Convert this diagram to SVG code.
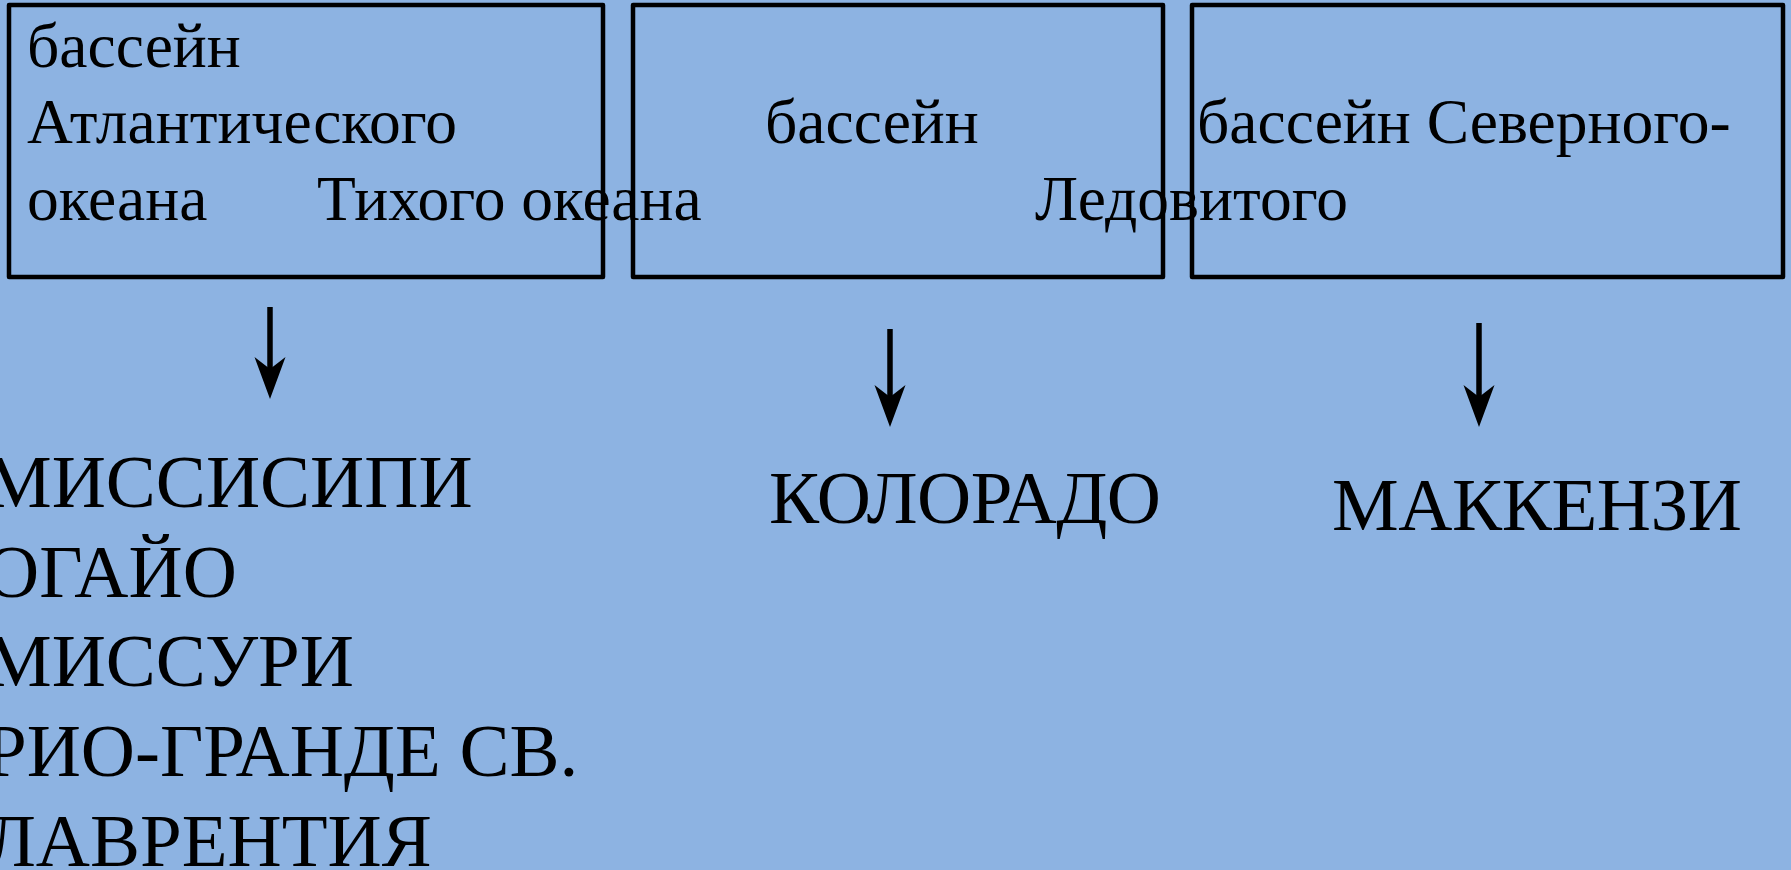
<svg xmlns="http://www.w3.org/2000/svg" width="1791" height="870" viewBox="0 0 1791 870">
<defs>
<style>
.box{fill:none;stroke:#000;stroke-width:4.5;stroke-linejoin:round}
.t{font-family:"Liberation Serif","Times New Roman",serif;font-size:63.5px;fill:#000}
.r{font-family:"Liberation Serif","Times New Roman",serif;font-size:75px;fill:#000}
.c{stroke:#000;stroke-width:5.5;fill:none}
</style>
<marker id="ah" markerUnits="userSpaceOnUse" markerWidth="34" markerHeight="46" viewBox="-17 -14 34 46" refX="0" refY="0" orient="0" overflow="visible">
<path d="M0,30 L-15.5,-12 L0,0 L15.5,-12 Z" fill="#000"/>
</marker>
</defs>
<rect width="1791" height="870" fill="#8DB3E2"/>
<g id="node-atlantic">
<rect class="box" x="9" y="5" width="594" height="272"/>
<text class="t" x="27" y="67">бассейн</text>
<text class="t" x="27" y="143">Атлантического</text>
<text class="t" x="27" y="220">океана</text>
</g>
<g id="node-pacific">
<rect class="box" x="633" y="5" width="530" height="272"/>
<text class="t" x="765" y="143">бассейн</text>
<text class="t" x="317" y="220">Тихого океана</text>
</g>
<g id="node-arctic">
<rect class="box" x="1192" y="5" width="591" height="272"/>
<text class="t" x="1197" y="143">бассейн Северного-</text>
<text class="t" x="1035" y="220">Ледовитого</text>
</g>
<g id="connectors">
<line class="c" x1="270" y1="307" x2="270" y2="369" marker-end="url(#ah)"/>
<line class="c" x1="890" y1="329" x2="890" y2="397" marker-end="url(#ah)"/>
<line class="c" x1="1479" y1="323" x2="1479" y2="397" marker-end="url(#ah)"/>
</g>
<g id="node-rivers-atlantic">
<text class="r" x="-15" y="507">МИССИСИПИ</text>
<text class="r" x="-15" y="597">ОГАЙО</text>
<text class="r" x="-15" y="686">МИССУРИ</text>
<text class="r" x="-15" y="776">РИО-ГРАНДЕ СВ.</text>
<text class="r" x="-15" y="866">ЛАВРЕНТИЯ</text>
</g>
<g id="node-rivers-pacific">
<text class="r" x="769" y="523" textLength="392">КОЛОРАДО</text>
</g>
<g id="node-rivers-arctic">
<text class="r" x="1332" y="530" textLength="410">МАККЕНЗИ</text>
</g>
</svg>
